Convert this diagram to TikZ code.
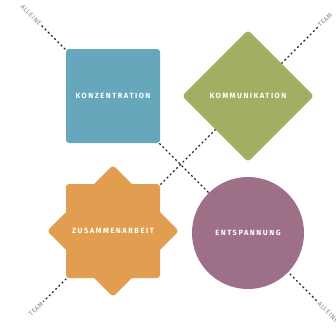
\documentclass[tikz,border=0pt]{standalone}
\usepackage{fontspec}
\usepackage{tikz}
\newfontfamily\shapefont[LetterSpace=20]{Fira Sans}
\newfontfamily\sidefont[LetterSpace=8]{Fira Sans}
\definecolor{node_blue}{RGB}{103,167,187}
\definecolor{node_green}{RGB}{163,174,98}
\definecolor{node_orange}{RGB}{226,158,80}
\definecolor{node_purple}{RGB}{158,112,136}
\definecolor{edge_gray}{RGB}{40,40,40}
\definecolor{text_gray}{RGB}{130,130,130}

\begin{document}
\begin{tikzpicture}[x=1pt,y=-1pt]
    \tikzstyle{field}=[rectangle, rounded corners=3pt, minimum size=94pt, inner sep=0pt, draw=none]
    \tikzstyle{title}=[text=white, font=\shapefont\bfseries\fontsize{7.5}{9}\selectfont]
    \tikzstyle{side}=[text=text_gray, font=\sidefont\fontsize{6.5}{7}\selectfont, inner sep=1.5pt]
    \tikzstyle{dashline}=[-, edge_gray, line width=1.1pt, dash pattern=on 2pt off 2.5pt]

    \useasboundingbox (0,0) rectangle (336,327);

    \node[side, rotate=-45] (al1) at (31,15)   {ALLEINE};
    \node[side, rotate=-45] (al2) at (328,312) {ALLEINE};
    \node[side, rotate=45]  (te1) at (325,20)  {TEAM};
    \node[side, rotate=45]  (te2) at (36,309)  {TEAM};

    \path
     (al1) edge[dashline] (al2)
     (te1) edge[dashline] (te2)
     ;

    \node[field, fill=node_blue]               (konz) at (113,96)  {};
    \node[field, fill=node_green, rotate=45,
          minimum size=93pt]                   (komm) at (248,96)  {};
    \node[field, fill=node_orange]             (zus1) at (113,231) {};
    \node[field, fill=node_orange, rotate=45,
          minimum size=93pt]                   (zus2) at (113,231) {};
    \node[circle, fill=node_purple, minimum size=112pt] (ents) at (248,233) {};

    \node[title] at (konz) {KONZENTRATION};
    \node[title] at (komm) {KOMMUNIKATION};
    \node[title] at (zus1) {ZUSAMMENARBEIT};
    \node[title] at (ents) {ENTSPANNUNG};
\end{tikzpicture}
\end{document}
